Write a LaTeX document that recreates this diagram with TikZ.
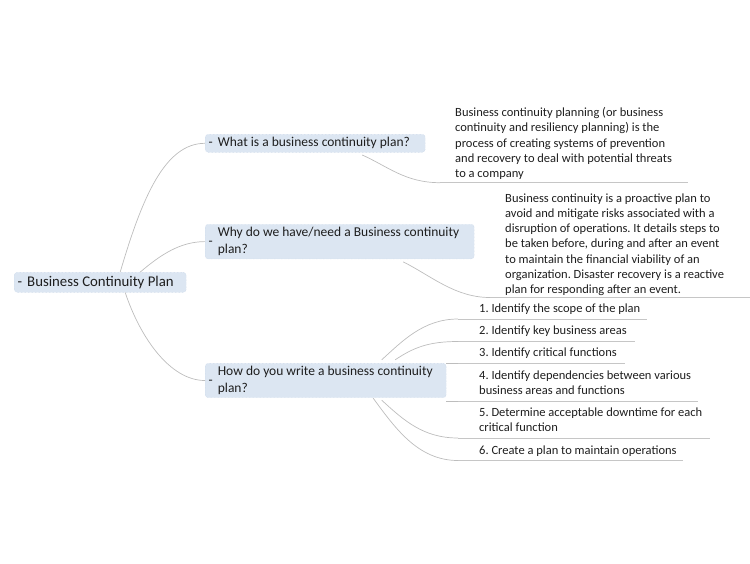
\documentclass[tikz,border=0pt]{standalone}
\usepackage{fontspec}
\setmainfont{Carlito}
\frenchspacing
\usetikzlibrary{calc}
\definecolor{boxfill}{HTML}{DCE6F2}
\definecolor{boxedge}{HTML}{C3D1E5}
\definecolor{ink}{HTML}{1E1E1E}
\definecolor{wire}{HTML}{BDBDBD}
\definecolor{rulegray}{HTML}{C6C6C6}
\newcommand{\oneline}[2]{\makebox[#1][l]{-\hspace{5pt}#2}}
\newcommand{\twolines}[2]{\makebox[#1][l]{-\hspace{5pt}\begin{tabular}[c]{@{}l@{}}#2\end{tabular}}}
\tikzset{
  topic/.style={fill=boxfill, draw=boxedge, densely dotted, rounded corners=3pt, inner xsep=3.5pt, inner ysep=0pt, anchor=west, text=ink},
  rootfont/.style={font=\fontsize{14.8}{17}\selectfont},
  topicfont/.style={font=\fontsize{13.5}{16.5}\selectfont},
  note/.style={text=ink, font=\fontsize{12.5}{15.25}\selectfont, align=left, inner sep=0pt, anchor=base west},
  wire/.style={draw=wire, line width=0.7pt},
  under/.style={draw=rulegray, line width=0.9pt},
}

\begin{document}
\begin{tikzpicture}[x=1pt,y=-1pt]
  \useasboundingbox (0,0) rectangle (750,563);
  % central topic and its branches
  \node[topic, rootfont, minimum height=20pt] (root) at (14,282.3) {\oneline{165pt}{Business Continuity Plan}};
  \node[topic, topicfont, minimum height=18pt] (whatis) at (205,143.3) {\oneline{213pt}{What is a business continuity plan?}};
  \node[topic, topicfont, minimum height=34.7pt] (why) at (205,241.6) {\twolines{262pt}{Why do we have/need a Business continuity\\plan?}};
  \node[topic, topicfont, minimum height=34.4pt] (how) at (205,380.5) {\twolines{234pt}{How do you write a business continuity\\plan?}};
  \draw[wire] ([xshift=20pt]root.north) .. controls +(22,-75) and +(-40,0) .. (whatis.west);
  \draw[wire] ([xshift=40pt]root.north) .. controls +(20,-17) and +(-25,0) .. (why.west);
  \draw[wire] ([xshift=25pt]root.south) .. controls +(15,45) and +(-35,0) .. (how.west);

  % notes (base = last line)
  \node[note] (whatisnote) at (455,177.7) {Business continuity planning (or business\\continuity and resiliency planning) is the\\process of creating systems of prevention\\and recovery to deal with potential threats\\to a company};
  \coordinate (whatisend) at (440,182.7);
  \draw[wire] ($(whatis.south)+(47,2.5)$) .. controls +(25,11) and +(-35,0) .. (whatisend);
  \draw[under] (whatisend) -- ++(248,0);

  \node[note] (whynote) at (505,293.5) {Business continuity is a proactive plan to\\avoid and mitigate risks associated with a\\disruption of operations. It details steps to\\be taken before, during and after an event\\to maintain the financial viability of an\\organization. Disaster recovery is a reactive\\plan for responding after an event.};
  \coordinate (whyend) at (490,297.5);
  \draw[wire] ($(why.south)+(63.5,2.7)$) .. controls +(28,14) and +(-35,0) .. (whyend);
  \draw[under] (whyend) -- ++(260,0);

  % steps
  \foreach \n/\y/\ly/\w/\txt in {
      1/312.5/319/189/{1. Identify the scope of the plan},
      2/334.5/341.5/177/{2. Identify key business areas},
      3/356.5/363.3/167/{3. Identify critical functions},
      4/394.7/401/240/{4. Identify dependencies between various\\business areas and functions},
      5/431.7/438/252/{5. Determine acceptable downtime for each\\critical function},
      6/454.5/460.5/225/{6. Create a plan to maintain operations}} {
    \node[note] (step\n) at (479,\y) {\txt};
    \coordinate (s\n) at (458,\ly);
    \draw[under] (s\n) -- ++(\w,0);
  }
  \draw[wire] ($(how.north)+(56,-3.3)$) .. controls +(20,-18) and +(-35,0) .. (s1);
  \draw[wire] ($(how.north)+(69.5,-3.3)$) .. controls +(18,-12) and +(-30,0) .. (s2);
  \draw[wire] (s3 -| how.east) -- (s3);
  \draw[wire] (s4 -| how.east) -- (s4);
  \draw[wire] ($(how.south)+(56,2.3)$) .. controls +(22,20) and +(-35,0) .. (s5);
  \draw[wire] ($(how.south)+(47.5,0.3)$) .. controls +(22,30) and +(-40,0) .. (s6);
\end{tikzpicture}
\end{document}
